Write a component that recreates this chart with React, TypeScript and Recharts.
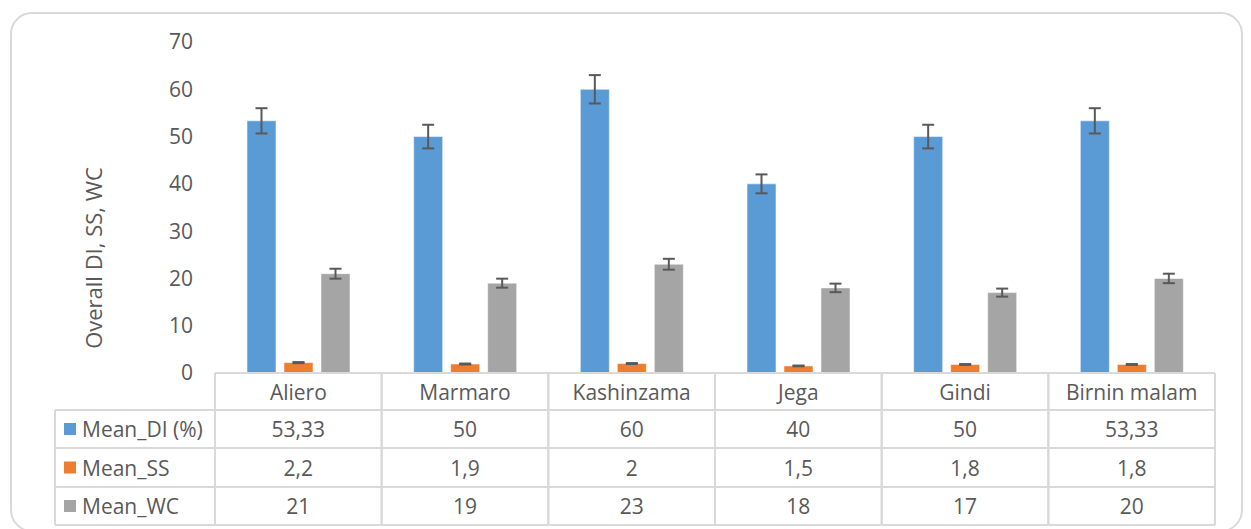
import { BarChart, Bar, XAxis, YAxis, ErrorBar } from 'recharts';

const categories = ['Aliero', 'Marmaro', 'Kashinzama', 'Jega', 'Gindi', 'Birnin malam'];
const meanDI = [53.33, 50, 60, 40, 50, 53.33];
const meanSS = [2.2, 1.9, 2, 1.5, 1.8, 1.8];
const meanWC = [21, 19, 23, 18, 17, 20];
// error bar half-lengths
const errDI = [2.67, 2.5, 3, 2, 2.5, 2.67];
const errSS = [0.11, 0.1, 0.1, 0.08, 0.09, 0.09];
const errWC = [1.05, 0.95, 1.15, 0.9, 0.85, 1];
const yTicks = [0, 10, 20, 30, 40, 50, 60, 70];

const series = [
  { key: 'di', name: 'Mean_DI (%)', color: '#5B9BD5', values: meanDI, errors: errDI },
  { key: 'ss', name: 'Mean_SS', color: '#ED7D31', values: meanSS, errors: errSS },
  { key: 'wc', name: 'Mean_WC', color: '#A5A5A5', values: meanWC, errors: errWC },
];

const data = categories.map((name, i) => {
  const row: any = { name };
  series.forEach(s => {
    row[s.key] = s.values[i];
    row[s.key + 'Err'] = s.errors[i];
  });
  return row;
});

const W = 1251;
const H = 529;
const PLOT_LEFT = 215;
const PLOT_RIGHT = 1215;
const TABLE_H = 156;
const LEGEND_W = 160;
const ROWS = [0, 37, 75, 114, 152];
const TEXT = '#595959';
const LINE = '#D9D9D9';
const FONT = '"Open Sans", sans-serif';
const FS = 21;

const fmt = (v: number) => String(v).replace('.', ',');

function TableColumn(props: any) {
  const { x, y, payload } = props;
  const index = payload.index;
  const colW = (PLOT_RIGHT - PLOT_LEFT) / categories.length;
  const left = x - colW / 2;
  const right = x + colW / 2;
  const bottom = y + ROWS[ROWS.length - 1];
  return (
    <g>
      <line x1={left} x2={left} y1={y} y2={bottom} stroke={LINE} strokeWidth={2} />
      <line x1={right} x2={right} y1={y} y2={bottom} stroke={LINE} strokeWidth={2} />
      {ROWS.slice(1).map(r => (
        <line key={r} x1={left} x2={right} y1={y + r} y2={y + r} stroke={LINE} strokeWidth={2} />
      ))}
      <text x={x} y={y + (ROWS[0] + ROWS[1]) / 2} textAnchor="middle" dominantBaseline="central"
        fill={TEXT} fontSize={FS} fontFamily={FONT}>{payload.value}</text>
      {series.map((s, si) => (
        <text key={s.key} x={x} y={y + (ROWS[si + 1] + ROWS[si + 2]) / 2} textAnchor="middle"
          dominantBaseline="central" fill={TEXT} fontSize={FS} fontFamily={FONT}>
          {fmt(s.values[index])}
        </text>
      ))}
      {index === 0 && (
        <g>
          <line x1={left - LEGEND_W} x2={left - LEGEND_W} y1={y + ROWS[1]} y2={bottom} stroke={LINE} strokeWidth={2} />
          {ROWS.slice(1).map(r => (
            <line key={r} x1={left - LEGEND_W} x2={left} y1={y + r} y2={y + r} stroke={LINE} strokeWidth={2} />
          ))}
          {series.map((s, si) => {
            const cy = y + (ROWS[si + 1] + ROWS[si + 2]) / 2;
            return (
              <g key={s.key}>
                <rect x={left - LEGEND_W + 9} y={cy - 6} width={12} height={12} fill={s.color} />
                <text x={left - LEGEND_W + 27} y={cy} dominantBaseline="central" fill={TEXT}
                  fontSize={FS} fontFamily={FONT}>{s.name}</text>
              </g>
            );
          })}
        </g>
      )}
    </g>
  );
}

export default function App() {
  return (
    <div style={{ position: 'absolute', left: 0, top: 0, width: W, height: H, background: '#fff' }}>
      <div style={{
        position: 'absolute', left: 10, top: 12, width: 1233, height: 520,
        border: '2px solid #D9D9D9', borderRadius: 22, boxSizing: 'border-box'
      }} />
      <svg style={{ position: 'absolute', left: 0, top: 0 }} width={W} height={H}>
        <text x={93} y={258} transform="rotate(-90 93 258)" textAnchor="middle" dominantBaseline="central"
          fill={TEXT} fontSize={22} fontFamily={FONT}>Overall DI, SS, WC</text>
      </svg>
      <div style={{ position: 'absolute', left: 0, top: 0 }}>
        <BarChart
          width={W}
          height={H}
          data={data}
          margin={{ top: 42, right: W - PLOT_RIGHT, bottom: 0, left: PLOT_LEFT - 60 }}
          barSize={29}
          barGap={8}
        >
          <YAxis
            width={60}
            domain={[0, 70]}
            ticks={yTicks}
            axisLine={false}
            tickLine={false}
            tickSize={0}
            tickMargin={22}
            tick={{ fill: TEXT, fontSize: FS, fontFamily: FONT }}
          />
          <XAxis
            dataKey="name"
            height={TABLE_H}
            interval={0}
            axisLine={{ stroke: LINE, strokeWidth: 2 }}
            tickLine={false}
            tickSize={0}
            tickMargin={0}
            tick={<TableColumn />}
          />
          {series.map(s => (
            <Bar key={s.key} dataKey={s.key} name={s.name} fill={s.color} stroke="#ffffff" strokeOpacity={0.5}
              strokeWidth={1} isAnimationActive={false}>
              <ErrorBar dataKey={s.key + 'Err'} width={6} strokeWidth={2} stroke="#595959" isAnimationActive={false} />
            </Bar>
          ))}
        </BarChart>
      </div>
    </div>
  );
}
